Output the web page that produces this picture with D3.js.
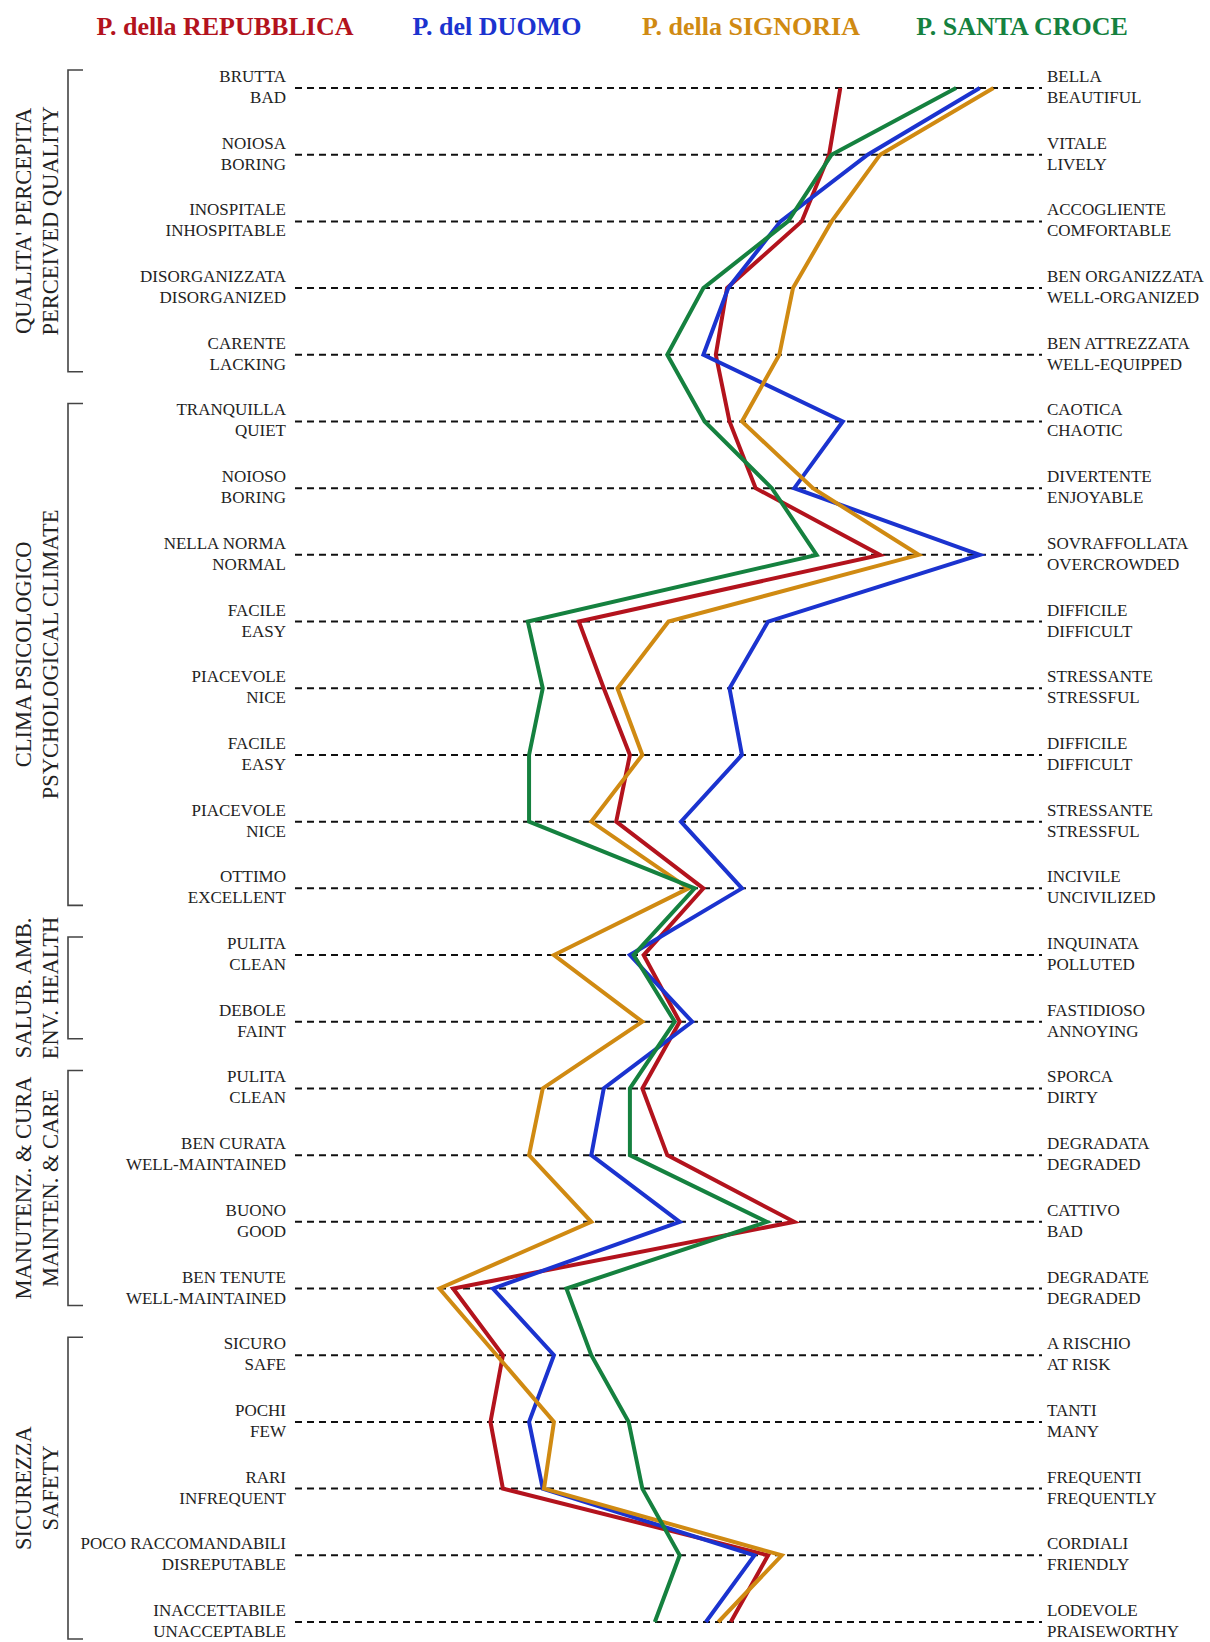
<!DOCTYPE html>
<html>
<head>
<meta charset="utf-8">
<script src="https://cdn.jsdelivr.net/npm/d3@7"></script>
<style>
  body { margin: 0; background: #fff; }
  text { font-family: "Liberation Serif", "DejaVu Serif", serif; fill: #222; }
</style>
</head>
<body>
<div id="chart"></div>
<script>
const width = 1210, height = 1642;

// adjective pairs, top to bottom
const leftIt = ["BRUTTA","NOIOSA","INOSPITALE","DISORGANIZZATA","CARENTE",
  "TRANQUILLA","NOIOSO","NELLA NORMA","FACILE","PIACEVOLE","FACILE","PIACEVOLE","OTTIMO",
  "PULITA","DEBOLE",
  "PULITA","BEN CURATA","BUONO","BEN TENUTE",
  "SICURO","POCHI","RARI","POCO RACCOMANDABILI","INACCETTABILE"];
const leftEn = ["BAD","BORING","INHOSPITABLE","DISORGANIZED","LACKING",
  "QUIET","BORING","NORMAL","EASY","NICE","EASY","NICE","EXCELLENT",
  "CLEAN","FAINT",
  "CLEAN","WELL-MAINTAINED","GOOD","WELL-MAINTAINED",
  "SAFE","FEW","INFREQUENT","DISREPUTABLE","UNACCEPTABLE"];
const rightIt = ["BELLA","VITALE","ACCOGLIENTE","BEN ORGANIZZATA","BEN ATTREZZATA",
  "CAOTICA","DIVERTENTE","SOVRAFFOLLATA","DIFFICILE","STRESSANTE","DIFFICILE","STRESSANTE","INCIVILE",
  "INQUINATA","FASTIDIOSO",
  "SPORCA","DEGRADATA","CATTIVO","DEGRADATE",
  "A RISCHIO","TANTI","FREQUENTI","CORDIALI","LODEVOLE"];
const rightEn = ["BEAUTIFUL","LIVELY","COMFORTABLE","WELL-ORGANIZED","WELL-EQUIPPED",
  "CHAOTIC","ENJOYABLE","OVERCROWDED","DIFFICULT","STRESSFUL","DIFFICULT","STRESSFUL","UNCIVILIZED",
  "POLLUTED","ANNOYING",
  "DIRTY","DEGRADED","BAD","DEGRADED",
  "AT RISK","MANY","FREQUENTLY","FRIENDLY","PRAISEWORTHY"];

// groups: [first row, last row, line 1, line 2]
const groups = [
  [0, 4, "QUALITA' PERCEPITA", "PERCEIVED QUALITY"],
  [5, 12, "CLIMA PSICOLOGICO", "PSYCHOLOGICAL CLIMATE"],
  [13, 14, "SALUB. AMB.", "ENV. HEALTH"],
  [15, 18, "MANUTENZ. & CURA", "MAINTEN. & CARE"],
  [19, 23, "SICUREZZA", "SAFETY"]
];

const squares = ["P. della REPUBBLICA", "P. del DUOMO", "P. della SIGNORIA", "P. SANTA CROCE"];
const colors = ["#b3131d", "#1b33cf", "#d08a12", "#15813f"];

// scores on a -3 .. +3 scale (left adjective = -3, right = +3)
const repubblica = [1.38,1.29,1.07,0.47,0.38, 0.49,0.70,1.70,-0.72,-0.52,-0.31,-0.42,0.28,
  -0.20,0.09, -0.21,-0.01,1.01,-1.73, -1.33,-1.43,-1.33,0.80,0.50];
const duomo = [2.50,1.60,0.90,0.48,0.28, 1.40,1.01,2.50,0.80,0.49,0.59,0.10,0.59,
  -0.31,0.19, -0.52,-0.62,0.09,-1.41, -0.92,-1.12,-1.01,0.69,0.30];
const signoria = [2.61,1.70,1.31,1.00,0.89, 0.59,1.16,2.01,0.00,-0.41,-0.21,-0.62,0.16,
  -0.92,-0.21, -1.01,-1.12,-0.62,-1.84, -1.38,-0.92,-1.00,0.91,0.40];
const santaCroce = [2.31,1.31,0.96,0.28,-0.01, 0.29,0.83,1.19,-1.13,-1.01,-1.12,-1.12,0.21,
  -0.28,0.05, -0.31,-0.31,0.79,-0.82, -0.62,-0.32,-0.21,0.09,-0.11];

const series = [repubblica, duomo, signoria, santaCroce];
const rows = d3.range(leftIt.length);

const xScale = d3.scaleLinear().domain([-3, 3]).range([295, 1042]);
const yScale = d3.scalePoint().domain(rows).range([88, 1622]);

const svg = d3.select("#chart").append("svg")
  .attr("width", width)
  .attr("height", height);

// legend
const legendX = [225, 497, 751, 1022];
svg.selectAll(".legend")
  .data(squares)
  .enter()
  .append("text")
  .attr("class", "legend")
  .attr("x", (d, i) => legendX[i])
  .attr("y", 35)
  .attr("text-anchor", "middle")
  .style("font-size", "26px")
  .style("font-weight", "bold")
  .style("fill", (d, i) => colors[i])
  .text(d => d);

// dashed guide lines
svg.selectAll(".guide")
  .data(rows)
  .enter()
  .append("line")
  .attr("class", "guide")
  .attr("x1", xScale.range()[0])
  .attr("x2", xScale.range()[1])
  .attr("y1", d => yScale(d))
  .attr("y2", d => yScale(d))
  .attr("stroke", "#111")
  .attr("stroke-width", 2)
  .attr("stroke-dasharray", "7,5");

// left labels
const left = svg.selectAll(".left")
  .data(rows)
  .enter()
  .append("text")
  .attr("class", "left")
  .attr("text-anchor", "end")
  .style("font-size", "17px");
left.append("tspan").attr("x", 286).attr("y", d => yScale(d) - 6).text(d => leftIt[d]);
left.append("tspan").attr("x", 286).attr("y", d => yScale(d) + 15).text(d => leftEn[d]);

// right labels
const right = svg.selectAll(".right")
  .data(rows)
  .enter()
  .append("text")
  .attr("class", "right")
  .attr("text-anchor", "start")
  .style("font-size", "17px");
right.append("tspan").attr("x", 1047).attr("y", d => yScale(d) - 6).text(d => rightIt[d]);
right.append("tspan").attr("x", 1047).attr("y", d => yScale(d) + 15).text(d => rightEn[d]);

// brackets and group titles
const bx = 68;
groups.forEach(g => {
  const y0 = yScale(g[0]) - 18, y1 = yScale(g[1]) + 17;
  svg.append("path")
    .attr("d", `M${bx + 15},${y0}H${bx}V${y1}H${bx + 15}`)
    .attr("fill", "none")
    .attr("stroke", "#444")
    .attr("stroke-width", 1.6);
  const cy = (y0 + y1) / 2;
  svg.append("text")
    .attr("transform", `translate(31,${cy}) rotate(-90)`)
    .attr("text-anchor", "middle")
    .style("font-size", "22.5px")
    .text(g[2]);
  svg.append("text")
    .attr("transform", `translate(58,${cy}) rotate(-90)`)
    .attr("text-anchor", "middle")
    .style("font-size", "22.5px")
    .text(g[3]);
});

// profile lines
const line = d3.line()
  .x(d => xScale(d[1]))
  .y(d => yScale(d[0]));

svg.selectAll(".profile")
  .data(series)
  .enter()
  .append("path")
  .attr("class", "profile")
  .attr("d", d => line(d.map((v, i) => [i, v])))
  .attr("fill", "none")
  .attr("stroke", (d, i) => colors[i])
  .attr("stroke-width", 4)
  .attr("stroke-linejoin", "miter");
</script>
</body>
</html>
